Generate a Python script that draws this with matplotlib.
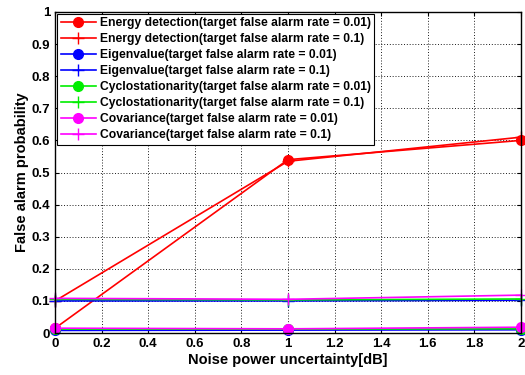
import matplotlib
matplotlib.use('Agg')
import matplotlib.pyplot as plt

plt.rcParams['font.family'] = ['Liberation Sans', 'DejaVu Sans']

uncertainty = [0, 1, 2]

energy_001 = [0.015, 0.54, 0.60]
energy_01 = [0.10, 0.535, 0.61]
eigen_001 = [0.008, 0.009, 0.010]
eigen_01 = [0.100, 0.100, 0.102]
cyclo_001 = [0.012, 0.012, 0.013]
cyclo_01 = [0.105, 0.103, 0.106]
cov_001 = [0.015, 0.013, 0.018]
cov_01 = [0.108, 0.105, 0.118]

series = [
    (energy_001, 'red', 'o', 'Energy detection(target false alarm rate = 0.01)'),
    (energy_01, 'red', '+', 'Energy detection(target false alarm rate = 0.1)'),
    (eigen_001, 'blue', 'o', 'Eigenvalue(target false alarm rate = 0.01)'),
    (eigen_01, 'blue', '+', 'Eigenvalue(target false alarm rate = 0.1)'),
    (cyclo_001, '#00ee00', 'o', 'Cyclostationarity(target false alarm rate = 0.01)'),
    (cyclo_01, '#00ee00', '+', 'Cyclostationarity(target false alarm rate = 0.1)'),
    (cov_001, 'magenta', 'o', 'Covariance(target false alarm rate = 0.01)'),
    (cov_01, 'magenta', '+', 'Covariance(target false alarm rate = 0.1)'),
]

fig = plt.figure(figsize=(5.25, 3.75), dpi=100)
ax = fig.add_axes([0.105, 0.112, 0.887, 0.856])

for vals, color, mk, label in series:
    ms = 7 if mk == 'o' else 8
    ax.plot(uncertainty, vals, color=color, marker=mk, markersize=ms,
            linewidth=1.2, label=label, clip_on=False)

ax.set_xlim(0, 2)
ax.set_ylim(0, 1)
ax.set_xticks([0, 0.2, 0.4, 0.6, 0.8, 1, 1.2, 1.4, 1.6, 1.8, 2])
ax.set_xticklabels(['0', '0.2', '0.4', '0.6', '0.8', '1', '1.2', '1.4', '1.6', '1.8', '2'])
ax.set_yticks([0, 0.1, 0.2, 0.3, 0.4, 0.5, 0.6, 0.7, 0.8, 0.9, 1])
ax.set_yticklabels(['0', '0.1', '0.2', '0.3', '0.4', '0.5', '0.6', '0.7', '0.8', '0.9', '1'])
ax.tick_params(direction='in', labelsize=9.5, top=True, right=True, length=3)
for lbl in ax.get_xticklabels() + ax.get_yticklabels():
    lbl.set_fontweight('bold')
ax.grid(True, color='black', linestyle=(0, (1.2, 2.2)), linewidth=0.6)
for s in ax.spines.values():
    s.set_linewidth(1.0)

ax.set_xlabel('Noise power uncertainty[dB]', fontsize=10.5, fontweight='bold', labelpad=2)
ax.set_ylabel('False alarm probability', fontsize=10.5, fontweight='bold', labelpad=2)

leg = ax.legend(loc='upper left', prop={'weight': 'bold', 'size': 8.7},
                frameon=True, fancybox=False, edgecolor='black', framealpha=1,
                borderpad=0.3, labelspacing=0.33, handlelength=2.9,
                handletextpad=0.35, borderaxespad=0.15)
leg.get_frame().set_linewidth(0.8)

fig.savefig('out.png', dpi=100)
